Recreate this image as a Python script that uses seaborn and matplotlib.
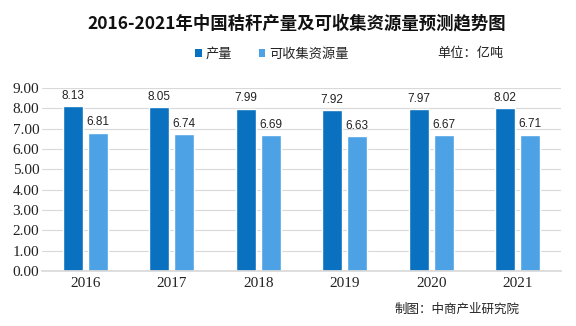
import matplotlib
matplotlib.use("Agg")
import matplotlib.pyplot as plt
import seaborn as sns
import pandas as pd

years = ["2016", "2017", "2018", "2019", "2020", "2021"]
production = [8.13, 8.05, 7.99, 7.92, 7.97, 8.02]
collectable = [6.81, 6.74, 6.69, 6.63, 6.67, 6.71]
series_names = ["产量", "可收集资源量"]
yticks = [0, 1, 2, 3, 4, 5, 6, 7, 8, 9]

sns.set_theme(style="white")
plt.rcParams['font.family'] = ['Noto Sans CJK SC', 'DejaVu Sans']

df = pd.DataFrame({
    "year": years * 2,
    "value": production + collectable,
    "series": [series_names[0]] * len(years) + [series_names[1]] * len(years),
})

colors = ["#0A70C0", "#4DA2E6"]

fig = plt.figure(figsize=(5.76, 3.26), dpi=100)
ax = fig.add_axes([42 / 576, 1 - 271 / 326, 519 / 576, (271 - 88) / 326])

sns.barplot(data=df, x="year", y="value", hue="series", palette=colors,
            width=0.58, gap=0.2, ax=ax, legend=False, saturation=1)

for cont in ax.containers:
    labels = [f"{v:.2f}" for v in cont.datavalues]
    ax.bar_label(cont, labels=labels, padding=3, fontsize=8.5,
                 family=['Liberation Sans', 'DejaVu Sans'], color="#222222")

ax.set_ylim(0, 9)
ax.set_xlim(-0.5, 5.5)
ax.set_yticks(yticks)
ax.set_yticklabels([f"{v:.2f}" for v in yticks], family=['Liberation Serif'], fontsize=11, color="#222222")
ax.set_xticklabels(years, family=['Liberation Serif'], fontsize=11, color="#222222")
ax.tick_params(axis="y", length=0, pad=2)
ax.tick_params(axis="x", length=0, pad=4)
ax.set_xlabel("")
ax.set_ylabel("")
ax.yaxis.grid(True, color="#D9D9D9", linewidth=0.8)
ax.set_axisbelow(True)
for s in ["top", "right", "left"]:
    ax.spines[s].set_visible(False)
ax.spines["bottom"].set_color("#D9D9D9")

fig.text(0.515, 1 - 23 / 326, "2016-2021年中国秸秆产量及可收集资源量预测趋势图",
         ha="center", va="center", fontsize=12.5, fontweight="bold", color="#111111")

# legend
from matplotlib.patches import Patch
handles = [Patch(facecolor=c, edgecolor="none") for c in colors]
leg = fig.legend(handles, series_names, loc="center", bbox_to_anchor=(272 / 576, 1 - 54 / 326),
                 ncol=2, frameon=False, fontsize=9.5, handlelength=0.5, handleheight=0.5,
                 handletextpad=0.3, columnspacing=2.0)
for t in leg.get_texts():
    t.set_color("#222222")

fig.text(470 / 576, 1 - 54 / 326, "单位：亿吨", ha="center", va="center", fontsize=9.5, color="#222222")
fig.text(395 / 576, 1 - 309 / 326, "制图：中商产业研究院", ha="left", va="center", fontsize=9, color="#222222")

fig.savefig("out.png", dpi=100)
